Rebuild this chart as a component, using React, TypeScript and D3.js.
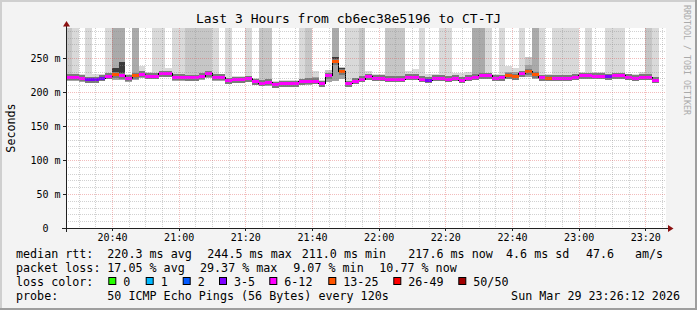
import React from 'react';
import * as d3 from 'd3';

// ---------- data ----------
const medianMs = [
  221.5, 221.5, 220, 218, 218, 220.5, 223.5, 225.5, 224, 220,
  224, 226, 223.5, 223.5, 226.5, 226.5, 221.5, 221.5, 221, 221,
  223, 226.5, 221.5, 221.5, 216.5, 218, 218, 219.5, 215, 213,
  214, 211, 212.5, 212.5, 212.5, 215, 215.5, 216, 212.5, 224,
  244.5, 230, 212.5, 216, 219, 222.5, 220, 220, 218.5, 218.5,
  218.5, 221.5, 221.5, 218.5, 217.5, 220, 220, 219, 220, 217.5,
  220, 221.5, 224, 224, 220.5, 221, 224, 222.5, 227, 230,
  225.5, 221, 220.5, 220, 220, 220, 221.5, 224, 224, 223,
  223, 222.5, 224, 224, 221.5, 220.5, 221.5, 221.5, 217.6,
];
const minMs = [
  216.5, 216.5, 215, 213.5, 213.5, 215.5, 218.5, 217.5, 218, 215,
  218, 221, 218.5, 218.5, 221.5, 221.5, 216.5, 216.5, 216, 216,
  218, 221, 216.5, 216.5, 211.5, 213, 213, 214.5, 210.5, 208.5,
  209.5, 207, 208, 208, 208, 210.5, 211, 211.5, 208, 214,
  215.5, 219, 208, 211.5, 214.5, 218, 215.5, 215.5, 214, 214,
  214, 217, 217, 214, 213, 215.5, 215.5, 214.5, 215.5, 213,
  215.5, 217, 219, 219, 216, 216.5, 219, 218, 222, 222,
  219, 216.5, 216, 215.5, 215.5, 215.5, 217, 219, 219, 218.5,
  218.5, 218, 219.5, 219.5, 217, 216, 217, 217, 213,
];
const coreTopMs = [
  225.5, 225.5, 224, 222, 222, 224.5, 227.5, 236, 243.5, 224,
  229, 230, 227.5, 227.5, 230.5, 229, 225.5, 225.5, 225, 225,
  227, 230.5, 225.5, 225.5, 220.5, 222, 222, 223.5, 219, 217,
  218, 215, 216.5, 216.5, 216.5, 219, 219.5, 222, 216.5, 228,
  252, 236, 216.5, 220, 223, 226.5, 224, 224, 222.5, 222.5,
  222.5, 225.5, 226, 222.5, 221.5, 224, 224, 223, 224, 221.5,
  224, 225.5, 228, 228, 224.5, 225, 230, 229, 231, 240,
  231, 225, 224.5, 224, 224, 224, 225.5, 228, 228, 227,
  227, 226.5, 228, 228, 225.5, 224.5, 225.5, 225.5, 221.5,
];
// upper edge of smoke; 300 = beyond the top of the graph
const maxMs = [
  300, 300, 227, 300, 226, 227, 300, 300, 300, 226,
  300, 238.5, 230, 300, 300, 236, 300, 300, 300, 300,
  300, 300, 300, 227, 300, 223, 223, 300, 221, 300,
  300, 216, 217, 217, 217, 300, 300, 231.5, 218, 232,
  300, 237, 300, 300, 300, 230.5, 226.5, 226.5, 300, 300,
  300, 231, 234, 300, 226, 226, 300, 300, 227.5, 227.5,
  229, 300, 300, 300, 226, 300, 238.5, 236, 300, 252,
  300, 300, 226, 300, 300, 300, 300, 229, 300, 229,
  229, 300, 300, 300, 226, 227, 229, 300, 300,
];
// density of the upper smoke: 0 sparse, 1 medium, 2 dense
const topDensity = [
  1, 0, 0, 0, 0, 0, 0, 2, 2, 0,
  2, 0, 0, 0, 0, 0, 0, 0, 1, 1,
  1, 1, 0, 0, 0, 0, 0, 0, 0, 1,
  1, 0, 0, 0, 0, 0, 1, 0, 0, 1,
  2, 1, 0, 0, 1, 0, 0, 0, 1, 1,
  1, 0, 0, 0, 0, 0, 0, 0, 0, 0,
  0, 2, 2, 0, 0, 0, 0, 0, 0, 1,
  2, 0, 0, 0, 0, 0, 0, 0, 0, 0,
  0, 0, 0, 0, 0, 0, 0, 1, 0,
];
// dense core above the median
const coreDense = [
  0, 0, 0, 0, 0, 0, 0, 1, 1, 0,
  0, 0, 0, 0, 0, 0, 0, 0, 0, 0,
  0, 0, 0, 0, 0, 0, 0, 0, 0, 0,
  0, 0, 0, 0, 0, 0, 0, 0, 0, 0,
  1, 1, 0, 0, 0, 0, 0, 0, 0, 0,
  0, 0, 0, 0, 0, 0, 0, 0, 0, 0,
  0, 0, 0, 0, 0, 0, 0, 0, 0, 0,
  0, 0, 0, 0, 0, 0, 0, 0, 0, 0,
  0, 0, 0, 0, 0, 0, 0, 0, 0,
];
// loss colour class (index into lossLabels)
const lossClass = [
  4, 4, 4, 3, 3, 3, 4, 5, 4, 4,
  5, 4, 4, 4, 4, 4, 4, 4, 4, 4,
  4, 4, 4, 4, 4, 4, 4, 4, 4, 4,
  4, 4, 4, 4, 4, 4, 4, 4, 4, 4,
  5, 5, 4, 4, 4, 4, 4, 4, 4, 4,
  4, 4, 4, 4, 3, 4, 4, 4, 4, 4,
  4, 4, 4, 4, 4, 4, 5, 5, 4, 5,
  5, 4, 5, 4, 4, 4, 4, 4, 4, 4,
  4, 3, 4, 4, 4, 4, 4, 4, 4,
];
const lossLabels = ['0', '1', '2', '3-5', '6-12', '13-25', '26-49', '50/50'];
const lossColors = ['#26ff00', '#00b8ff', '#0059ff', '#7e00ff', '#ff00ff', '#ff5500', '#ff0000', '#a10000'];

const yTicks = [0, 50, 100, 150, 200, 250];
const yTickLabels = ['0\u00a0\u00a0', '50 m', '100 m', '150 m', '200 m', '250 m'];
const xTickLabels = ['20:40', '21:00', '21:20', '21:40', '22:00', '22:20', '22:40', '23:00', '23:20'];

const title = 'Last 3 Hours from cb6ec38e5196 to CT-TJ';
const rttStats = ['220.3 ms avg', '244.5 ms max', '211.0 ms min', '217.6 ms now', '4.6 ms sd', '47.6', 'am/s'];
const lossStats = ['17.05 % avg', '29.37 % max', '9.07 % min', '10.77 % now'];
const probeText = '50 ICMP Echo Pings (56 Bytes) every 120s';
const stampText = 'Sun Mar 29 23:26:12 2026';

const viewStart = Date.UTC(2026, 2, 29, 20, 26, 12);
const viewEnd = Date.UTC(2026, 2, 29, 23, 26, 12);
const firstStep = Date.UTC(2026, 2, 29, 20, 26, 0);
const stepMs = 120000;
const yTop = 294.12;

// ---------- layout ----------
const W = 697, H = 310;
const PL = 66, PR = 666, PT = 28, PB = 228;
const FONT = 'DejaVu Sans Mono, monospace';
const topShadeColors = ['#d9d9d9', '#c6c6c6', '#aaaaaa'];

export default function App() {
  const x = d3.scaleUtc().domain([viewStart, viewEnd]).range([PL, PR]);
  const y = d3.scaleLinear().domain([0, yTop]).range([PB, PT]);
  const cy = (v: number) => Math.max(PT, y(v));

  const steps = medianMs.map((m, i) => {
    const t0 = firstStep + i * stepMs;
    const x0 = Math.max(PL, x(t0));
    const x1 = Math.min(PR, x(t0 + stepMs));
    return { i, m, x0, x1 };
  });

  const medLine = d3.line<{ x: number; v: number }>()
    .x(d => d.x).y(d => y(d.v)).curve(d3.curveStepAfter);
  const medPts = steps.map(s => ({ x: s.x0, v: s.m }));
  medPts.push({ x: steps[steps.length - 1].x1, v: steps[steps.length - 1].m });

  const minorT = d3.utcMinute.every(5)!.range(new Date(viewStart), new Date(viewEnd));
  const majorT = d3.utcMinute.every(20)!.range(new Date(viewStart), new Date(viewEnd));
  const majorSet = new Set(majorT.map(d => +d));
  const minorV = d3.range(10, yTop, 10).filter(v => v % 50 !== 0);
  const majorV = yTicks.filter(v => v > 0);
  const fmt = d3.utcFormat('%H:%M');

  const px = (v: number) => Math.round(v) + 0.5;

  const legendRows = [257.5, 271.5, 285.5, 299.5];
  const rttX = [107.3, 207.3, 301.7, 408.3, 506, 586, 635];
  const lossX = [107.3, 200, 293.3, 379.3];
  const boxX = [108.3, 145.7, 182.7, 219, 269.3, 328.3, 393.3, 458.3];

  const minorStroke = 'rgba(140,140,140,0.4)';
  const majorStroke = 'rgba(222,80,80,0.38)';

  return (
    <svg width={W} height={H} style={{ position: 'absolute', left: 0, top: 0 }}
      fontFamily={FONT}>
      <defs>
        <clipPath id="plot"><rect x={PL} y={PT} width={PR - PL} height={PB - PT} /></clipPath>
      </defs>
      <rect x={0} y={0} width={W} height={H} fill="#f3f3f3" />
      <rect x={0} y={0} width={W} height={2} fill="#cfcfcf" />
      <rect x={0} y={0} width={2} height={H} fill="#cfcfcf" />
      <rect x={0} y={H - 2} width={W} height={2} fill="#9e9e9e" />
      <rect x={W - 2} y={0} width={2} height={H} fill="#9e9e9e" />
      <rect x={PL} y={PT} width={PR - PL} height={PB - PT} fill="#ffffff" />

      <g clipPath="url(#plot)" shapeRendering="crispEdges">
        {steps.map(s => (
          <g key={s.i}>
            <rect x={s.x0} width={s.x1 - s.x0} y={cy(maxMs[s.i])}
              height={y(minMs[s.i]) - cy(maxMs[s.i])} fill={topShadeColors[topDensity[s.i]]} />
            <rect x={s.x0} width={s.x1 - s.x0} y={cy(coreTopMs[s.i])}
              height={y(minMs[s.i]) - cy(coreTopMs[s.i])} fill="#a3a3a3" />
            {coreDense[s.i] ? (
              <rect x={s.x0} width={s.x1 - s.x0} y={cy(coreTopMs[s.i])}
                height={y(s.m) - cy(coreTopMs[s.i])} fill="#3a3a3a" />
            ) : null}
            <rect x={s.x0} width={s.x1 - s.x0} y={y(s.m) - 3} height={6} fill="#7a7a7a" />
          </g>
        ))}
        <path d={medLine(medPts) || ''} fill="none" stroke="#000" strokeWidth={1} />
        {steps.map(s => (
          <rect key={'m' + s.i} x={s.x0} width={s.x1 - s.x0} y={y(s.m) - 1.5} height={3}
            fill={lossColors[lossClass[s.i]]} />
        ))}
      </g>

      {/* grid */}
      <g strokeDasharray="1,1" strokeWidth={1}>
        {minorV.map(v => (
          <line key={'hv' + v} x1={PL} x2={PR} y1={px(y(v))} y2={px(y(v))} stroke={minorStroke} />
        ))}
        {minorT.filter(t => !majorSet.has(+t)).map(t => (
          <line key={'vt' + +t} x1={px(x(t))} x2={px(x(t))} y1={PT} y2={PB} stroke={minorStroke} />
        ))}
        {majorV.map(v => (
          <line key={'hm' + v} x1={PL} x2={PR} y1={px(y(v))} y2={px(y(v))} stroke={majorStroke} />
        ))}
        {majorT.map(t => (
          <line key={'vm' + +t} x1={px(x(t))} x2={px(x(t))} y1={PT} y2={PB} stroke={majorStroke} />
        ))}
      </g>

      {/* axes */}
      <g stroke="#202020" strokeWidth={1} shapeRendering="crispEdges">
        <line x1={PL - 4} x2={PR + 4} y1={PB + 0.5} y2={PB + 0.5} />
        <line x1={PL + 0.5} x2={PL + 0.5} y1={PB + 4} y2={PT - 4} />
        {yTicks.map(v => (
          <line key={'yt' + v} x1={PL - 3} x2={PL} y1={px(y(v))} y2={px(y(v))} />
        ))}
        {majorT.map(t => (
          <line key={'xt' + +t} x1={px(x(t))} x2={px(x(t))} y1={PB} y2={PB + 3} />
        ))}
      </g>
      <path d={`M${PL + 0.5},${PT - 7}L${PL - 3},${PT - 1.5}L${PL + 4},${PT - 1.5}Z`} fill="#8b1010" />
      <path d={`M${PR + 7.5},${PB + 0.5}L${PR + 2},${PB - 3}L${PR + 2},${PB + 4}Z`} fill="#8b1010" />

      {/* axis labels */}
      <g fontSize={10} fill="#000">
        {yTicks.map((v, i) => (
          <text key={'yl' + v} x={60.5} y={y(v) + 3.5} textAnchor="end">{yTickLabels[i]}</text>
        ))}
        {majorT.map((t, i) => (
          <text key={'xl' + +t} x={x(t) + 0.5} y={241} textAnchor="middle">{xTickLabels[i] ?? fmt(t)}</text>
        ))}
      </g>
      <text transform="translate(14.5,128) rotate(-90)" textAnchor="middle" fontSize={11.7}>Seconds</text>
      <text x={348.5} y={23} textAnchor="middle" fontSize={13}>{title}</text>
      <text transform="translate(684,5) rotate(90)" fontSize={8.3} fill="#aaaaaa">RRDTOOL / TOBI OETIKER</text>

      {/* legend */}
      <g fontSize={11.7} fill="#000">
        <text x={16} y={legendRows[0]}>median rtt:</text>
        {rttStats.map((s, i) => <text key={'r' + i} x={rttX[i]} y={legendRows[0]}>{s}</text>)}
        <text x={16} y={legendRows[1]}>packet loss:</text>
        {lossStats.map((s, i) => <text key={'l' + i} x={lossX[i]} y={legendRows[1]}>{s}</text>)}
        <text x={16} y={legendRows[2]}>loss color:</text>
        {lossLabels.map((s, i) => (
          <g key={'b' + i}>
            <rect x={boxX[i] + 0.5} y={277.5} width={7} height={7} fill={lossColors[i]} stroke="#000" strokeWidth={1} />
            <text x={boxX[i] + 15} y={legendRows[2]}>{s}</text>
          </g>
        ))}
        <text x={16} y={legendRows[3]}>probe:</text>
        <text x={107.3} y={legendRows[3]}>{probeText}</text>
        <text x={680} y={legendRows[3]} textAnchor="end">{stampText}</text>
      </g>
    </svg>
  );
}
